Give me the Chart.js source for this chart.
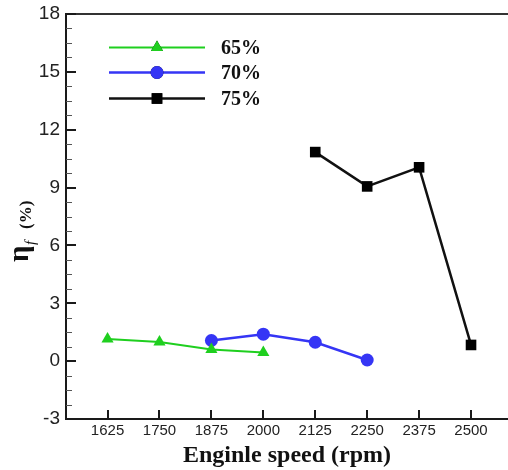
<!DOCTYPE html>
<html>
<head>
<meta charset="utf-8">
<script src="https://cdn.jsdelivr.net/npm/chart.js@4"></script>
<style>html,body{margin:0;padding:0;background:#fff;overflow:hidden}canvas{display:block}</style>
</head>
<body>
<canvas id="c" width="508" height="470"></canvas>
<script>
// ---- data ----
const seriesLabels = ['65%', '70%', '75%'];
const speed65 = [1625, 1750, 1875, 2000];
const eta65   = [1.15, 0.99, 0.60, 0.45];
const speed70 = [1875, 2000, 2125, 2250];
const eta70   = [1.07, 1.40, 0.98, 0.06];
const speed75 = [2125, 2250, 2375, 2500];
const eta75   = [10.84, 9.06, 10.05, 0.84];
const xTickValues = [1625, 1750, 1875, 2000, 2125, 2250, 2375, 2500];
const yTickValues = [-3, 0, 3, 6, 9, 12, 15, 18];

const pts = (xs, ys) => xs.map((x, i) => ({x: x, y: ys[i]}));

const axisColor = '#1a1a1a';

const decorPlugin = {
  id: 'decor',
  afterDraw(chart) {
    const ctx = chart.ctx, ca = chart.chartArea;
    const xs = chart.scales.x, ys = chart.scales.y;
    ctx.save();
    // top border
    ctx.strokeStyle = '#333';
    ctx.lineWidth = 2;
    ctx.beginPath();
    ctx.moveTo(ca.left, ca.top);
    ctx.lineTo(chart.width, ca.top);
    ctx.stroke();
    // inward ticks
    ctx.strokeStyle = axisColor;
    ctx.lineWidth = 2;
    xTickValues.forEach(v => {
      const px = Math.round(xs.getPixelForValue(v));
      ctx.beginPath();
      ctx.moveTo(px, ca.bottom);
      ctx.lineTo(px, ca.bottom - 9);
      ctx.stroke();
    });
    yTickValues.forEach(v => {
      const py = Math.round(ys.getPixelForValue(v));
      ctx.beginPath();
      ctx.moveTo(ca.left, py);
      ctx.lineTo(ca.left + 10, py);
      ctx.stroke();
    });
    ctx.lineWidth = 1;
    ctx.strokeStyle = '#555';
    for (let i = 0; i < yTickValues.length - 1; i++) {
      for (let k = 1; k < 4; k++) {
        const v = yTickValues[i] + k * (yTickValues[i + 1] - yTickValues[i]) / 4;
        const py = Math.round(ys.getPixelForValue(v)) + 0.5;
        ctx.beginPath();
        ctx.moveTo(ca.left, py);
        ctx.lineTo(ca.left + 6, py);
        ctx.stroke();
      }
    }
    // y title (rotated)
    ctx.fillStyle = '#111';
    ctx.rotate(-Math.PI / 2);
    ctx.textBaseline = 'alphabetic';
    ctx.textAlign = 'left';
    ctx.font = 'bold 29px "Liberation Serif"';
    ctx.fillText('η', -262, 28);
    ctx.font = 'italic 15px "Liberation Serif"';
    ctx.fillText('f', -245, 35);
    ctx.font = 'bold 17px "Liberation Serif"';
    ctx.fillText('(%)', -229, 31);
    ctx.restore();

    // legend
    ctx.save();
    const rows = [47.5, 72.5, 98.5];
    chart.data.datasets.forEach((ds, i) => {
      const y = rows[i];
      ctx.strokeStyle = ds.borderColor;
      ctx.lineWidth = ds.borderWidth;
      ctx.beginPath();
      ctx.moveTo(109, y);
      ctx.lineTo(205, y);
      ctx.stroke();
      Chart.helpers.drawPoint(ctx, {
        pointStyle: ds.pointStyle,
        radius: ds.pointRadius,
        borderWidth: 0,
        rotation: 0
      }, 157, y);
      ctx.fillStyle = ds.pointBackgroundColor;
      ctx.fill();
      ctx.fillStyle = '#111';
      ctx.font = 'bold 20px "Liberation Serif"';
      ctx.textBaseline = 'middle';
      ctx.fillText(ds.label, 221, y + 1);
    });
    ctx.restore();
  }
};

new Chart(document.getElementById('c'), {
  type: 'scatter',
  data: {
    datasets: [
      {label: seriesLabels[0], data: pts(speed65, eta65), showLine: true,
       borderColor: '#1fcf1f', backgroundColor: '#1fcf1f', pointBackgroundColor: '#1fcf1f',
       borderWidth: 2, pointStyle: 'triangle', pointRadius: 7, pointBorderWidth: 0},
      {label: seriesLabels[1], data: pts(speed70, eta70), showLine: true,
       borderColor: '#3535f5', backgroundColor: '#3535f5', pointBackgroundColor: '#3535f5',
       borderWidth: 2.5, pointStyle: 'circle', pointRadius: 6.5, pointBorderWidth: 0},
      {label: seriesLabels[2], data: pts(speed75, eta75), showLine: true,
       borderColor: '#111', backgroundColor: '#000', pointBackgroundColor: '#000',
       borderWidth: 2.5, pointStyle: 'rect', pointRadius: 7.5, pointBorderWidth: 0}
    ]
  },
  options: {
    responsive: false,
    animation: false,
    devicePixelRatio: 1,
    layout: {autoPadding: false, padding: {top: 14, right: 0, left: 0, bottom: 0}},
    plugins: {legend: {display: false}, tooltip: {enabled: false}},
    elements: {line: {tension: 0}},
    scales: {
      x: {
        type: 'linear', min: 1525, max: 2589,
        afterBuildTicks: s => { s.ticks = xTickValues.map(v => ({value: v})); },
        afterFit: s => { s.height = 51; s.paddingLeft = 0; s.paddingRight = 0; },
        grid: {display: false, drawTicks: false},
        border: {display: true, color: axisColor, width: 2},
        ticks: {color: '#222', font: {family: 'Liberation Sans', size: 15}, padding: 3, maxRotation: 0, autoSkip: false,
                callback: v => String(v)},
        title: {display: true, text: 'Enginle speed (rpm)', color: '#111',
                font: {family: 'Liberation Serif', size: 24, weight: 'bold'}, padding: {top: 0, bottom: 0}}
      },
      y: {
        type: 'linear', min: -3, max: 18,
        afterBuildTicks: s => { s.ticks = yTickValues.map(v => ({value: v})); },
        afterFit: s => { s.width = 66; s.paddingTop = 0; s.paddingBottom = 0; },
        grid: {display: false, drawTicks: false},
        border: {display: true, color: axisColor, width: 2},
        ticks: {color: '#222', font: {family: 'Liberation Sans', size: 19}, padding: 6, callback: v => String(v)}
      }
    }
  },
  plugins: [decorPlugin]
});
</script>
</body>
</html>
